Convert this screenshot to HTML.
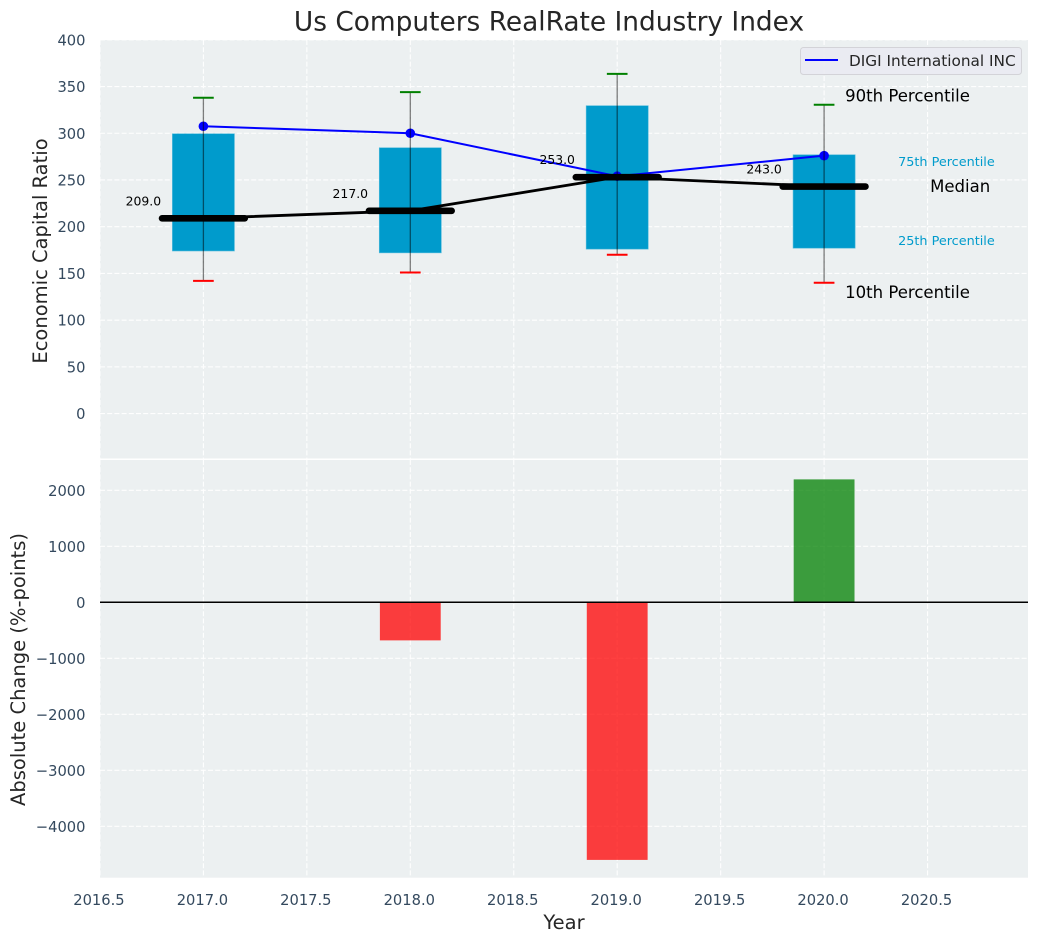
<!DOCTYPE html>
<html lang="en">
<head>
<meta charset="utf-8">
<title>Us Computers RealRate Industry Index</title>
<style>
html,body{margin:0;padding:0;background:#fff;width:1039px;height:942px;overflow:hidden}
svg{display:block}
text{font-family:"DejaVu Sans","Liberation Sans",sans-serif}
.tick{font-size:15.3px;fill:#34495e}
.axis{font-size:19.5px;fill:#262626}
.grid{stroke:#fff;stroke-width:1.1;stroke-dasharray:5 2.2;opacity:.95}
</style>
</head>
<body>
<svg id="chart" xmlns="http://www.w3.org/2000/svg" width="1039" height="942" viewBox="0 0 1039 942">
  <rect x="100" y="40" width="928" height="418.5" fill="#ecf0f1"/>
  <rect x="100" y="460" width="928" height="417.7" fill="#ecf0f1"/>
  <g id="grid"></g>
  <g id="ticks"></g>
  <g id="marks"></g>
  <text x="549" y="30.5" text-anchor="middle" font-size="26.4" fill="#262626">Us Computers RealRate Industry Index</text>
  <text class="axis" transform="translate(47,251) rotate(-90)" text-anchor="middle">Economic Capital Ratio</text>
  <text class="axis" transform="translate(25,669.5) rotate(-90)" text-anchor="middle">Absolute Change (%-points)</text>
  <text class="axis" x="564" y="929" text-anchor="middle">Year</text>
  <g>
    <rect x="800.5" y="47.5" width="221" height="27" rx="3" fill="#eaeaf2" fill-opacity=".9" stroke="#d3d3d8" stroke-width="1"/>
    <line x1="805" x2="838" y1="60" y2="60" stroke="#0000ff" stroke-width="2"/>
    <text x="849" y="66" font-size="15.3" fill="#262626">DIGI International INC</text>
  </g>
</svg>
<script>
// Chart data
const years = [2017, 2018, 2019, 2020];
const p90 = [338, 344, 363.5, 330.5];
const p75 = [299.5, 284.5, 329.5, 277];
const median = [209, 217, 253, 243];
const p25 = [174, 172, 176, 177];
const p10 = [142, 151, 170, 140];
const company = [307.5, 300, 254, 276];
const changeYears = [2018, 2019, 2020];
const changes = [-680, -4600, 2195];
const xTicks = ["2016.5", "2017.0", "2017.5", "2018.0", "2018.5", "2019.0", "2019.5", "2020.0", "2020.5"];
const topYTicks = [0, 50, 100, 150, 200, 250, 300, 350, 400];
const bottomYTicks = [-4000, -3000, -2000, -1000, 0, 1000, 2000];

// Axis functions
const xScale = v => 203.4 + (v - 2017) * 206.9;
const yTop = v => 413.6 - v * 0.9345;
const yBottom = v => 602.3 - v * 0.056;

const NS = "http://www.w3.org/2000/svg";
function make(parent, tag, attrs, text) {
  const el = document.createElementNS(NS, tag);
  for (const k in attrs) el.setAttribute(k, attrs[k]);
  if (text !== undefined) el.textContent = text;
  document.getElementById(parent).appendChild(el);
  return el;
}

// Grid and tick labels
xTicks.forEach(t => {
  const x = xScale(parseFloat(t));
  let el = make("grid", "line", {class: "grid", x1: x, x2: x, y1: 40, y2: 458.5});
  
  
  el = make("grid", "line", {class: "grid", x1: x, x2: x, y1: 460, y2: 877.7});
  
  
  el = make("ticks", "text", {class: "tick", x: x - 1, y: 905, "text-anchor": "middle"}, t);
  
  
});
topYTicks.forEach(t => {
  const y = yTop(t);
  let el = make("grid", "line", {class: "grid", x1: 100, x2: 1028, y1: y, y2: y});
  
  
  el = make("ticks", "text", {class: "tick", x: 85.5, y: y + 5.5, "text-anchor": "end"}, String(t));
  
  
});
bottomYTicks.forEach(t => {
  const y = yBottom(t);
  let el = make("grid", "line", {class: "grid", x1: 100, x2: 1028, y1: y, y2: y});
  
  
  el = make("ticks", "text", {class: "tick", x: 85.5, y: y + 5.5, "text-anchor": "end"}, String(t).replace("-", "\u2212"));
  
  
});
// Tick digits in the reference are slightly condensed
document.querySelectorAll(".tick").forEach(el => {
  el.setAttribute("textLength", el.getComputedTextLength() * 0.96);
  el.setAttribute("lengthAdjust", "spacingAndGlyphs");
});

// Percentile boxes
const boxHalf = 0.15, capHalf = 0.05, medHalf = 0.2;
years.forEach((yr, i) => {
  const el = make("marks", "rect", {
    x: xScale(yr - boxHalf), width: xScale(yr + boxHalf) - xScale(yr - boxHalf),
    y: yTop(p75[i]), height: yTop(p25[i]) - yTop(p75[i]),
    fill: "#009bcc", stroke: "#55bcdc", "stroke-width": 0.6
  });
  
  
});

// Company line with markers
const bluePts = years.map((yr, i) => xScale(yr) + "," + yTop(company[i])).join(" ");
const blueLine = make("marks", "polyline", {points: bluePts, fill: "none", stroke: "#0000ff", "stroke-width": 2});


years.forEach((yr, i) => {
  const el = make("marks", "circle", {cx: xScale(yr), cy: yTop(company[i]), r: 4.8, fill: "#0000ff"});
  
  
});

// Median connector line
const medPts = years.map((yr, i) => xScale(yr) + "," + yTop(median[i])).join(" ");
const medLine = make("marks", "polyline", {points: medPts, fill: "none", stroke: "#000", "stroke-width": 2.8});



years.forEach((yr, i) => {
  const x = xScale(yr);
  let el = make("marks", "line", {x1: xScale(yr - medHalf), x2: xScale(yr + medHalf), y1: yTop(median[i]), y2: yTop(median[i]), stroke: "#000", "stroke-width": 6.6, "stroke-linecap": "round"});
  
  
  el = make("marks", "line", {x1: x, x2: x, y1: yTop(p90[i]), y2: yTop(p10[i]), stroke: "#000", "stroke-opacity": 0.5, "stroke-width": 1.3});
  
  
  el = make("marks", "line", {x1: xScale(yr - capHalf), x2: xScale(yr + capHalf), y1: yTop(p90[i]), y2: yTop(p90[i]), stroke: "#008000", "stroke-width": 2});
  
  
  el = make("marks", "line", {x1: xScale(yr - capHalf), x2: xScale(yr + capHalf), y1: yTop(p10[i]), y2: yTop(p10[i]), stroke: "#ff0000", "stroke-width": 2});
  
  
  el = make("marks", "text", {x: xScale(yr - 0.29), y: yTop(median[i]) - 13, "text-anchor": "middle", "font-size": 12.4, fill: "#000"}, median[i].toFixed(1));
  
  
});

// Percentile annotations, anchored to the final year
const last = years.length - 1;
const xLast = xScale(years[last]);
let note = make("marks", "text", {x: xLast + 21, y: yTop(p90[last]) - 3, "font-size": 16.55, fill: "#000"}, "90th Percentile");


note = make("marks", "text", {x: xLast + 21, y: yTop(p10[last]) + 15, "font-size": 16.55, fill: "#000"}, "10th Percentile");


note = make("marks", "text", {x: xLast + 106, y: yTop(median[last]) + 5.5, "font-size": 16.55, fill: "#000"}, "Median");


note = make("marks", "text", {x: xLast + 74, y: yTop(p75[last]) + 11.5, "font-size": 12.8, fill: "#009bcc"}, "75th Percentile");


note = make("marks", "text", {x: xLast + 74, y: yTop(p25[last]) - 3, "font-size": 12.8, fill: "#009bcc"}, "25th Percentile");



// Absolute change bars
changeYears.forEach((yr, i) => {
  const v = changes[i];
  const top = Math.min(yBottom(v), yBottom(0));
  const h = Math.abs(yBottom(v) - yBottom(0));
  const el = make("marks", "rect", {
    x: xScale(yr - 0.147), width: xScale(yr + 0.147) - xScale(yr - 0.147), y: top, height: h,
    fill: v < 0 ? "#ff0000" : "#008000", "fill-opacity": 0.75
  });
  
  
});
const zeroLine = make("marks", "line", {x1: 100, x2: 1028, y1: yBottom(0), y2: yBottom(0), stroke: "#000", "stroke-width": 1.5});


</script>
</body>
</html>
